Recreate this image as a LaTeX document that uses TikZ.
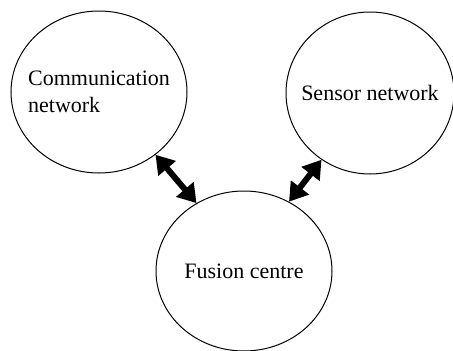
\documentclass[tikz,border=0pt]{standalone}
\usepackage{fontspec}
\setmainfont{Liberation Serif}
\usetikzlibrary{shapes.geometric,arrows.meta}
\begin{document}
\begin{tikzpicture}[x=1pt,y=-1pt,
  blob/.style={draw,line width=1pt,ellipse,inner ysep=0pt,inner xsep=-15pt,font=\fontsize{22}{27}\selectfont},
  link/.style={line width=6pt,{Triangle[length=18pt,width=22pt]}-{Triangle[length=18pt,width=22pt]}}]
\useasboundingbox (0,0) rectangle (453,351);
\node[blob,minimum width=176pt,minimum height=162pt,align=left] (comm) at (99,92) {Communication\\network};
\node[blob,minimum width=168pt,minimum height=162pt] (sens) at (370,93) {Sensor network};
\node[blob,minimum width=176pt,minimum height=160pt] (fus) at (244,271) {Fusion centre};
\draw[link] (comm.-48) -- (fus.125);
\draw[link] (sens.-126) -- (fus.57);
\end{tikzpicture}
\end{document}
